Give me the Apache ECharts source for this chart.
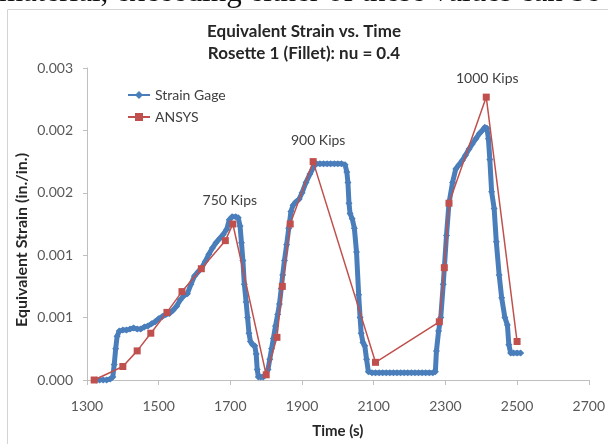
<!DOCTYPE html>
<html>
<head>
<meta charset="utf-8">
<script src="https://cdn.jsdelivr.net/npm/echarts@6/dist/echarts.min.js"></script>
<style>
  html, body { margin: 0; padding: 0; background: #fff; }
  #chart { width: 608px; height: 444px; }
</style>
</head>
<body>
<div id="chart"></div>
<script>
// Strain gage readings (time in s, equivalent strain in in./in.)
const strainTime = [
  1326, 1335, 1345, 1355, 1365, 1372, 1376, 1380, 1384, 1390,
  1400, 1410, 1420, 1430, 1440, 1450, 1460, 1470, 1480, 1490,
  1500, 1510, 1520, 1530, 1540, 1550, 1560, 1570, 1580, 1590,
  1600, 1610, 1620, 1630, 1640, 1650, 1660, 1670, 1680, 1690,
  1697, 1705, 1715, 1722, 1727, 1731, 1735, 1739, 1744, 1748,
  1752, 1756, 1762, 1768, 1772, 1775, 1778, 1785, 1792, 1798,
  1805, 1810, 1815, 1820, 1826, 1832, 1837, 1842, 1846, 1851,
  1857, 1863, 1869, 1875, 1882, 1892, 1900, 1911, 1922, 1934,
  1940, 1950, 1960, 1970, 1980, 1990, 2000, 2010, 2020, 2025,
  2028, 2031, 2034, 2040, 2046, 2052, 2058, 2062, 2065, 2070,
  2075, 2080, 2085, 2095, 2105, 2115, 2125, 2135, 2145, 2155,
  2165, 2175, 2185, 2195, 2205, 2215, 2225, 2235, 2245, 2255,
  2265, 2272, 2275, 2281, 2287, 2294, 2303, 2310, 2320, 2329,
  2338, 2347, 2356, 2366, 2375, 2385, 2395, 2403, 2410, 2416,
  2420, 2424, 2429, 2436, 2442, 2450, 2457, 2466, 2473, 2477,
  2482, 2490, 2500, 2510
];
const strainValue = [
  0.00000, 0.00000, 0.00000, 0.00000, 0.00001, 0.00003, 0.00015, 0.00030, 0.00042, 0.00047,
  0.00048, 0.00048, 0.00049, 0.00050, 0.00049, 0.00049, 0.00051, 0.00052, 0.00054, 0.00056,
  0.00059, 0.00061, 0.00063, 0.00064, 0.00067, 0.00071, 0.00077, 0.00081, 0.00083, 0.00092,
  0.00100, 0.00104, 0.00108, 0.00114, 0.00121, 0.00127, 0.00132, 0.00136, 0.00140, 0.00145,
  0.00154, 0.00157, 0.00157, 0.00156, 0.00148, 0.00132, 0.00115, 0.00092, 0.00075, 0.00060,
  0.00045, 0.00037, 0.00034, 0.00033, 0.00025, 0.00010, 0.00003, 0.00003, 0.00003, 0.00005,
  0.00010, 0.00020, 0.00030, 0.00040, 0.00052, 0.00063, 0.00073, 0.00088, 0.00101, 0.00115,
  0.00130, 0.00146, 0.00162, 0.00168, 0.00171, 0.00174, 0.00180, 0.00190, 0.00198, 0.00206,
  0.00208, 0.00208, 0.00208, 0.00208, 0.00208, 0.00208, 0.00208, 0.00208, 0.00207, 0.00200,
  0.00190, 0.00170, 0.00160, 0.00155, 0.00146, 0.00123, 0.00082, 0.00060, 0.00045, 0.00036,
  0.00033, 0.00020, 0.00008, 0.00007, 0.00007, 0.00007, 0.00007, 0.00007, 0.00007, 0.00007,
  0.00007, 0.00007, 0.00007, 0.00007, 0.00007, 0.00007, 0.00007, 0.00007, 0.00007, 0.00007,
  0.00007, 0.00008, 0.00028, 0.00047, 0.00060, 0.00092, 0.00139, 0.00170, 0.00190, 0.00203,
  0.00207, 0.00211, 0.00216, 0.00222, 0.00227, 0.00232, 0.00237, 0.00240, 0.00243, 0.00242,
  0.00232, 0.00212, 0.00181, 0.00165, 0.00133, 0.00101, 0.00079, 0.00060, 0.00053, 0.00034,
  0.00026, 0.00026, 0.00026, 0.00026
];

// ANSYS results
const ansysTime = [
  1320, 1400, 1440, 1478, 1523, 1565, 1619, 1686, 1707, 1800,
  1830, 1845, 1867, 1931, 2105, 2283, 2297, 2310, 2414, 2500
];
const ansysValue = [
  0.00000, 0.00013, 0.00028, 0.00045, 0.00065, 0.00085, 0.00107, 0.00134, 0.00150, 0.00005,
  0.00041, 0.00090, 0.00150, 0.00210, 0.00017, 0.00056, 0.00108, 0.00170, 0.00272, 0.00037
];
// load annotations at the ANSYS peaks
const ansysLabels = [
  '', '', '', '', '', '', '', '', '750 Kips', '',
  '', '', '', '900 Kips', '', '', '', '', '1000 Kips', ''
];

const seriesNames = ['Strain Gage', 'ANSYS'];
const titleLines = ['Equivalent Strain vs. Time', 'Rosette 1 (Fillet): nu = 0.4'];
const xAxisName = 'Time (s)';
const yAxisName = 'Equivalent Strain (in./in.)';
const pageLine = 'material, exceeding either of these values can be';

// label placement tweaks (distance above point, horizontal shift)
const labelPlacement = {
  '750 Kips': { distance: 13, dx: -3 },
  '900 Kips': { distance: 11, dx: 5 },
  '1000 Kips': { distance: 8, dx: 1 }
};

const FONT = 'Lato, "Open Sans", sans-serif';
const BLUE = '#4a7ebb';
const RED = '#c0504d';
const AXIS = '#bfbfbf';

const chart = echarts.init(document.getElementById('chart'));

const strainData = strainTime.map((t, i) => [t, strainValue[i]]);
const ansysData = ansysTime.map((t, i) => {
  const lbl = ansysLabels[i];
  if (!lbl) return [t, ansysValue[i]];
  const p = labelPlacement[lbl];
  return {
    value: [t, ansysValue[i]],
    label: {
      show: true,
      formatter: lbl,
      position: 'top',
      distance: p.distance,
      offset: [p.dx, 0],
      color: '#404040',
      fontFamily: FONT,
      fontSize: 14
    }
  };
});

const option = {
  animation: false,
  backgroundColor: '#fff',
  title: {
    text: titleLines.join('\n'),
    left: 'center',
    top: 16,
    textStyle: {
      fontFamily: FONT,
      fontSize: 17,
      fontWeight: 'bold',
      color: '#262626',
      lineHeight: 22
    }
  },
  legend: {
    data: seriesNames,
    orient: 'vertical',
    left: 122,
    top: 83,
    itemWidth: 22,
    itemHeight: 10,
    itemGap: 8,
    textStyle: { fontFamily: FONT, fontSize: 14, color: '#404040' }
  },
  grid: {
    left: 87,
    right: 18,
    top: 68,
    bottom: 61
  },
  xAxis: {
    type: 'value',
    min: 1300,
    max: 2700,
    interval: 200,
    name: xAxisName,
    nameLocation: 'middle',
    nameGap: 44,
    nameTextStyle: { fontFamily: FONT, fontSize: 15, fontWeight: 'bold', color: '#262626' },
    splitLine: { show: false },
    axisLine: { lineStyle: { color: AXIS } },
    axisTick: { show: true, length: 5, lineStyle: { color: AXIS } },
    axisLabel: {
      margin: 19,
      fontFamily: FONT,
      fontSize: 14,
      color: '#595959',
      formatter: v => String(v)
    }
  },
  yAxis: {
    type: 'value',
    min: 0,
    max: 0.003,
    interval: 0.0006,
    splitLine: { show: false },
    axisLine: { show: true, lineStyle: { color: AXIS } },
    axisTick: { show: true, length: 4, lineStyle: { color: AXIS } },
    axisLabel: {
      margin: 14,
      fontFamily: FONT,
      fontSize: 14,
      color: '#595959',
      formatter: v => v.toFixed(3)
    }
  },
  graphic: [
    {
      type: 'rect',
      shape: { x: 7.5, y: 9.5, width: 700, height: 500 },
      style: { fill: 'none', stroke: '#d4d4d4', lineWidth: 1 },
      silent: true
    },
    {
      type: 'text',
      x: -1,
      y: -7,
      style: {
        text: pageLine,
        font: '31px "Liberation Serif", "DejaVu Serif", serif',
        fill: '#111',
        verticalAlign: 'middle'
      },
      silent: true
    },
    {
      type: 'text',
      x: 22,
      y: 240,
      rotation: Math.PI / 2,
      style: {
        text: yAxisName,
        font: 'bold 16px ' + FONT,
        fill: '#262626',
        align: 'center',
        verticalAlign: 'middle'
      },
      silent: true
    }
  ],
  series: [
    {
      name: seriesNames[0],
      type: 'line',
      data: strainData,
      symbol: 'diamond',
      symbolSize: 7,
      showAllSymbol: true,
      color: BLUE,
      lineStyle: { width: 5, color: BLUE },
      itemStyle: { color: BLUE },
      z: 2
    },
    {
      name: seriesNames[1],
      type: 'line',
      data: ansysData,
      symbol: 'rect',
      symbolSize: 7,
      color: RED,
      lineStyle: { width: 1.5, color: RED },
      itemStyle: { color: RED },
      z: 3
    }
  ]
};

chart.setOption(option);
</script>
</body>
</html>
